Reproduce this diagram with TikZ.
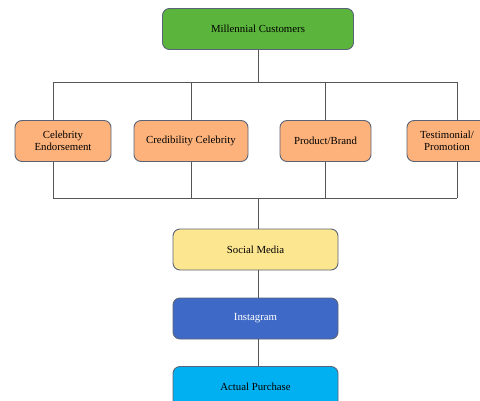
\documentclass[tikz,border=0pt]{standalone}
\usepackage{fontspec}
\setmainfont{Liberation Serif}
\usetikzlibrary{positioning}

\definecolor{custgreen}{HTML}{5BB53C}
\definecolor{peach}{HTML}{FDB27B}
\definecolor{paleyellow}{HTML}{FCE68F}
\definecolor{instablue}{HTML}{3F69C7}
\definecolor{skyblue}{HTML}{00B0F0}
\definecolor{edgegray}{HTML}{5A6478}
\definecolor{wiregray}{HTML}{555555}

\begin{document}
\begin{tikzpicture}[
  x=1pt, y=1pt,
  box/.style={rectangle, rounded corners=7pt, draw=edgegray, line width=0.9pt, minimum height=41pt, font=\fontsize{10.8}{12}\selectfont, align=center, text=black, inner xsep=2pt},
  topbox/.style={box, fill=custgreen, minimum width=191pt},
  factor/.style={box, fill=peach},
  chainbox/.style={box, minimum width=165pt},
  wire/.style={draw=wiregray, line width=0.8pt}
]
\useasboundingbox (0,0) rectangle (480,-400);
\clip (0,0) rectangle (480,-400);

\node[topbox] (cust) at (258,-29) {Millennial Customers};

\node[factor, minimum width=96pt] (celeb) at (63,-141) {Celebrity\\Endorsement};
\node[factor, minimum width=114pt, right of=celeb, node distance=128pt] (cred) {Credibility Celebrity};
\node[factor, minimum width=91pt, right of=cred, node distance=134.5pt] (prod) {Product/Brand};
\node[factor, minimum width=80pt, right of=prod, node distance=121.5pt] (test) {Testimonial/\\Promotion};

\node[chainbox, fill=paleyellow] (social) at (255.5,-249.5) {Social Media};
\node[chainbox, fill=instablue, text=white, below of=social, node distance=69pt] (insta) {Instagram};
\node[chainbox, fill=skyblue, below of=insta, node distance=68.5pt] (purch) {Actual Purchase};

% bus lines
\coordinate (bustop) at (258,-82);
\coordinate (busbot) at (258,-198);
\coordinate (tap1) at (53,-82);
\coordinate (tap2) at (191,-82);
\coordinate (tap3) at (325,-82);
\coordinate (tap4) at (457,-82);

\draw[wire] (cust) -- (bustop);
\draw[wire] (tap1) -- (tap4);
\draw[wire] (tap1 |- busbot) -- (tap4 |- busbot);
\foreach \t/\n in {tap1/celeb, tap2/cred, tap3/prod, tap4/test} {
  \draw[wire] (\t) -- (\t |- \n.north);
  \draw[wire] (\t |- \n.south) -- (\t |- busbot);
}

\draw[wire] (busbot) -- (busbot |- social.north);
\draw[wire] (busbot |- social.south) -- (busbot |- insta.north);
\draw[wire] (busbot |- insta.south) -- (busbot |- purch.north);
\end{tikzpicture}
\end{document}
